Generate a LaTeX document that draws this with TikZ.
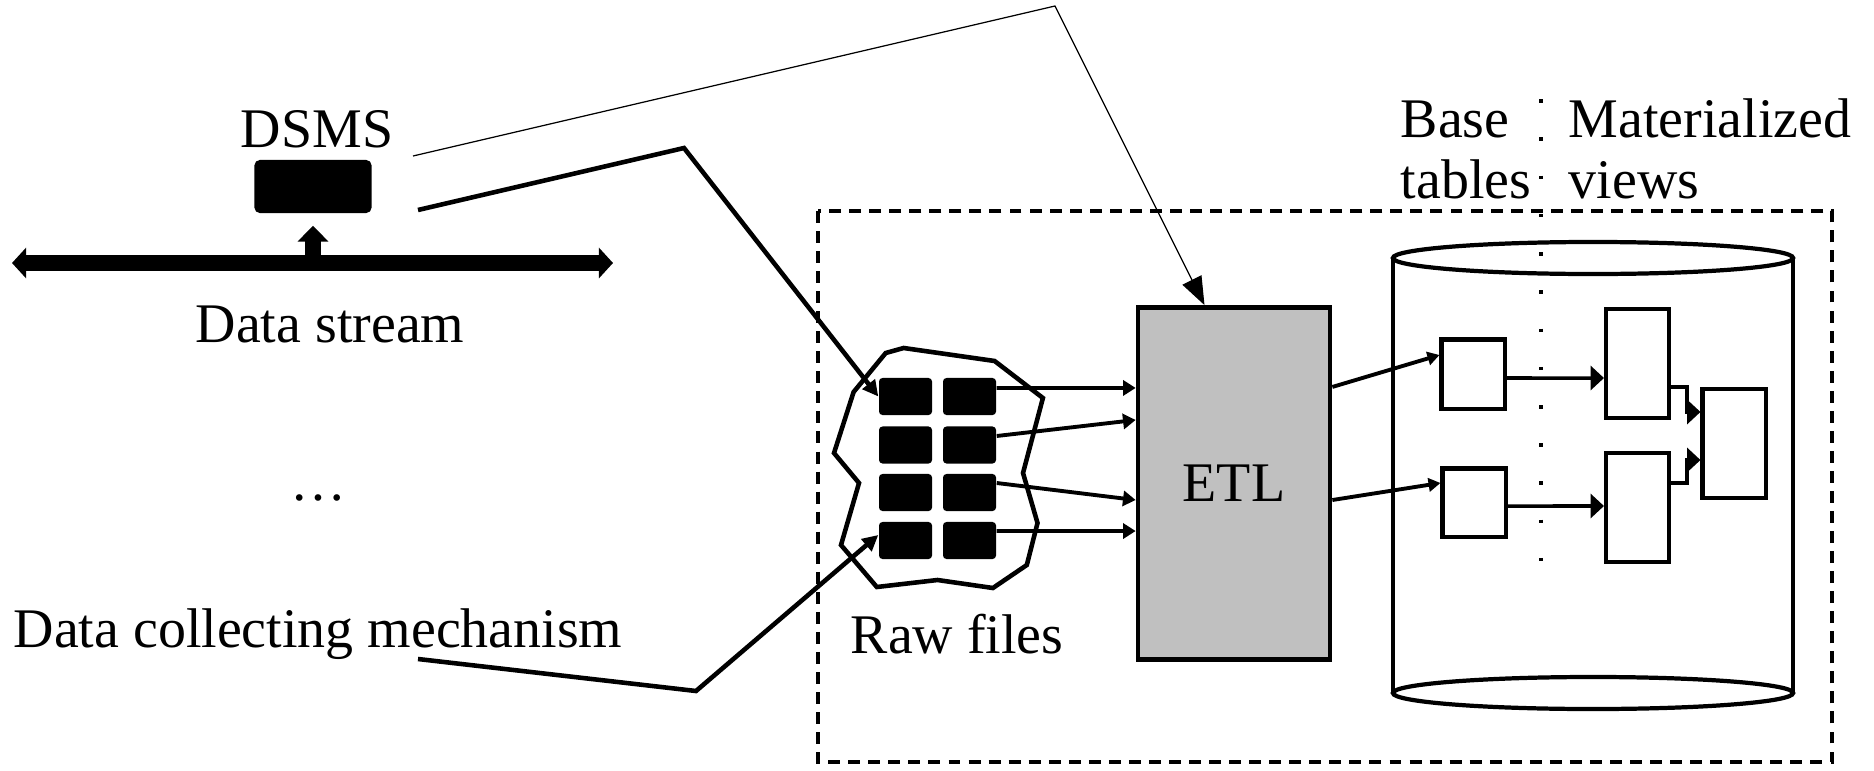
\documentclass[tikz,border=0pt]{standalone}
\usepackage{fontspec}
\setmainfont{Liberation Serif}[Ligatures=NoCommon]
\usetikzlibrary{arrows.meta,calc}
\definecolor{etlgray}{RGB}{192,192,192}
\begin{document}
\begin{tikzpicture}[x=0.01cm,y=-0.01cm,
  txt/.style={font=\fontsize{15.9}{18}\selectfont, inner sep=0pt},
  thk/.style={line width=1.3pt},
  rawbox/.style={fill=black, rounded corners=1pt, minimum width=0.53cm, minimum height=0.37cm, inner sep=0pt},
  tbl/.style={draw, line width=1.15pt, inner sep=0pt, minimum width=0.63cm},
  streamtip/.tip={Triangle[length=4pt,width=8.5pt]},
  midtip/.tip={Triangle[length=4.5pt,width=4.4pt]},
  rawtip/.tip={Triangle[length=3.6pt,width=4.3pt]},
  smalltip/.tip={Triangle[length=3.4pt,width=3.8pt]},
  bigtip/.tip={Triangle[length=3.8pt,width=6.8pt]},
  thintip/.tip={Triangle[length=8pt,width=6pt]},
  rawarrow/.style={line width=1.1pt, -rawtip},
  tblarrow/.style={line width=1pt, -bigtip}
]
\useasboundingbox (0,0) rectangle (1874,770);

% ---------- left part: stream and DSMS ----------
\node[txt, anchor=base] (dsmslbl) at (317,148) {DSMS};
\node[fill=black, rounded corners=1.5pt, minimum width=1.17cm, minimum height=0.53cm, inner sep=0pt] (dsms) at (313,186.5) {};
\coordinate (sL) at (12,263);
\coordinate (sR) at (613,263);
\coordinate (sJ) at (313,263);
\draw[line width=4.8pt, streamtip-streamtip] (sL) -- (sR);
\draw[line width=4.8pt, -{Triangle[length=4.5pt,width=8.5pt]}] (sJ) -- ([yshift=-0.12cm]dsms.south);
\node[txt, anchor=base] (streamlbl) at (330,342) {Data stream};
\node[txt, anchor=base] (dots) at (318,500) {…};
\node[txt, anchor=base west] (dcm) at (13,647) {Data collecting mechanism};

% ---------- dashed warehouse frame ----------
\draw[line width=1.35pt, dash pattern=on 3.4pt off 2.3pt] (818,211) rectangle (1832,762);

% ---------- raw files ----------
\draw[thk] (903.6,348) -- (994.6,361) -- (1042.9,398) -- (1023,473) -- (1037.5,523)
  -- (1026.8,565) -- (992.9,588) -- (937.5,580) -- (876.8,587) -- (841,545)
  -- (859,483) -- (834,453) -- (853.6,392) -- (885.7,353) -- cycle;
\node[rawbox] (r11) at (905.5,396.5) {};
\node[rawbox] (r12) at (969.5,396.5) {};
\node[rawbox] (r21) at (905.5,445) {};
\node[rawbox] (r22) at (969.5,445) {};
\node[rawbox] (r31) at (905.5,492.5) {};
\node[rawbox] (r32) at (969.5,492.5) {};
\node[rawbox] (r41) at (905.5,540.5) {};
\node[rawbox] (r42) at (969.5,540.5) {};
\node[txt, anchor=base west] (rawlbl) at (850,653) {Raw files};

% ---------- ETL ----------
\node[draw, line width=1.3pt, fill=etlgray, minimum width=1.92cm, minimum height=3.52cm, txt] (etl) at (1234,483.5) {ETL};

\draw[rawarrow] ([yshift=0.085cm]r12.east) -- ([yshift=0.955cm]etl.west);
\draw[rawarrow] ([yshift=0.09cm]r22.east) -- ([yshift=0.635cm]etl.west);
\draw[rawarrow] ([yshift=0.095cm]r32.east) -- ([yshift=-0.165cm]etl.west);
\draw[rawarrow] ([yshift=0.095cm]r42.east) -- ([yshift=-0.475cm]etl.west);

% ---------- connectors from the sources ----------
\coordinate (dA) at (418,210);
\coordinate (dB) at (684,148);
\draw[line width=1.3pt, -midtip] (dA) -- (dB) -- (r11.west);
\coordinate (cA) at (418,659);
\coordinate (cB) at (696,691);
\draw[line width=1.3pt, -midtip] (cA) -- (cB) -- ([yshift=0.055cm]r41.west);
\coordinate (tA) at (413,156);
\coordinate (tB) at (1055,6);
\draw[line width=0.35pt, -thintip] (tA) -- (tB) -- ([xshift=-0.295cm]etl.north);

% ---------- database cylinder ----------
\draw[line width=1.2pt] (1593,258) ellipse [x radius=2cm, y radius=0.16cm];
\draw[line width=1.2pt] (1593,693) ellipse [x radius=2cm, y radius=0.16cm];
\draw[line width=1.2pt] (1393,258) -- (1393,693);
\draw[line width=1.2pt] (1793,258) -- (1793,693);

\draw[line width=1pt, dash pattern=on 1pt off 9.87pt] (1541,99.2) -- (1541,563);
\node[txt, anchor=base west] (baselbl) at (1400,138) {Base};
\node[txt, anchor=base west] (tablbl) at (1400,198) {tables};
\node[txt, anchor=base west] (matlbl) at (1568,138) {Materialized};
\node[txt, anchor=base west] (viewlbl) at (1568,198) {views};

\node[tbl, minimum height=0.69cm] (b1) at (1473,374) {};
\node[tbl, minimum height=0.68cm] (b2) at (1474,502.5) {};
\node[tbl, minimum height=1.09cm] (mA) at (1637.5,363.5) {};
\node[tbl, minimum height=1.09cm] (mB) at (1637.5,507.5) {};
\node[tbl, minimum height=1.09cm] (mC) at (1734,443.5) {};

\draw[line width=1.1pt, -smalltip] ([yshift=0.965cm]etl.east) -- ([yshift=0.19cm]b1.west);
\draw[line width=1.1pt, -smalltip] ([yshift=-0.165cm]etl.east) -- ([yshift=0.195cm]b2.west);
\draw[tblarrow] ([yshift=-0.04cm]b1.east) -- ([yshift=-0.145cm]mA.west);
\draw[tblarrow] ([yshift=-0.035cm]b2.east) -- ([yshift=0.015cm]mB.west);
\draw[tblarrow] ([yshift=-0.235cm]mA.east) -- ++(16,0) |- ([yshift=0.315cm]mC.west);
\draw[tblarrow] ([yshift=0.245cm]mB.east) -- ++(16,0) |- ([yshift=-0.165cm]mC.west);
\end{tikzpicture}
\end{document}
